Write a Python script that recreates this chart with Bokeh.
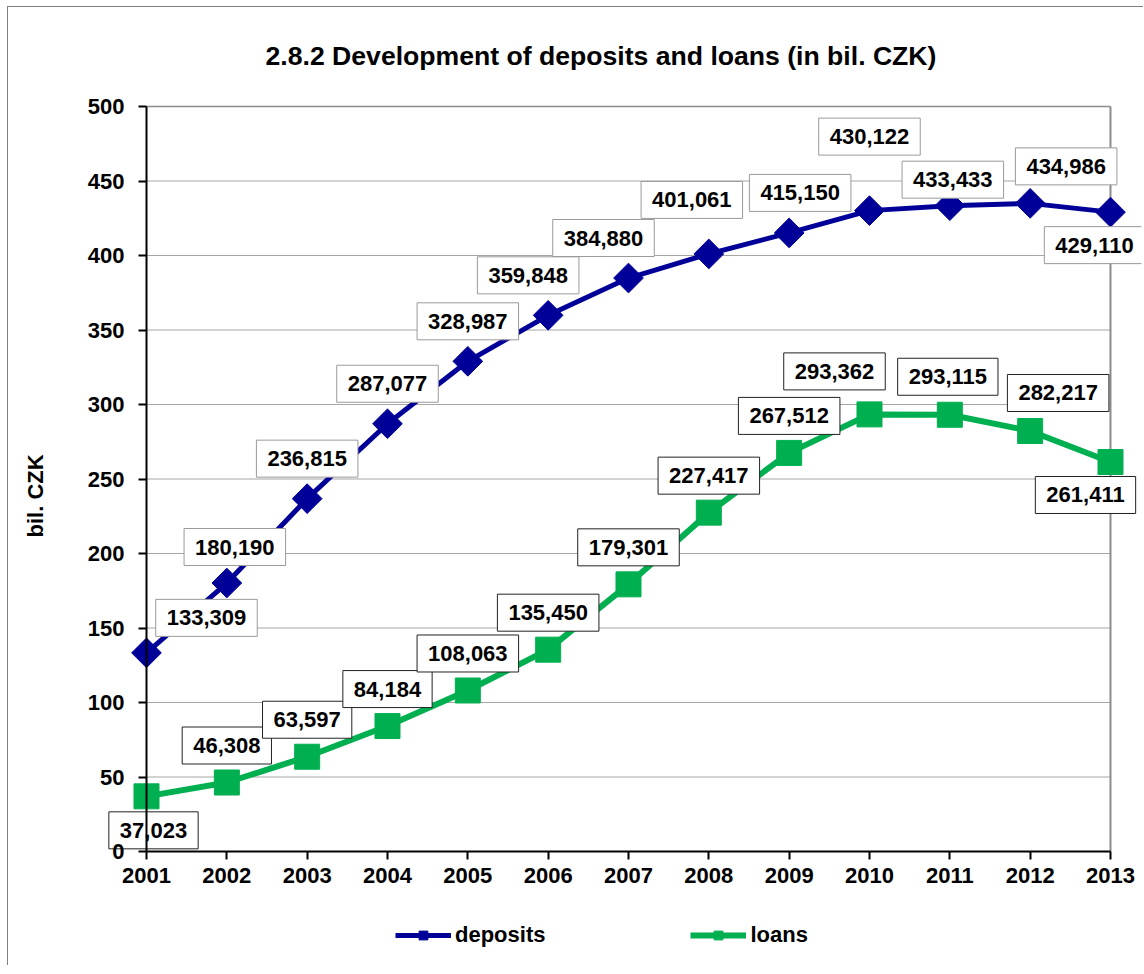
import math
from bokeh.plotting import figure
from bokeh.models import (Range1d, LinearAxis, FixedTicker, ColumnDataSource,
                          Legend, LegendItem, Title)
from bokeh.core.properties import value
from bokeh.embed import file_html
from bokeh.resources import INLINE

# ---------------- data ----------------
years = [2001, 2002, 2003, 2004, 2005, 2006, 2007, 2008, 2009, 2010, 2011, 2012, 2013]
deposits = [133.309, 180.190, 236.815, 287.077, 328.987, 359.848, 384.880,
            401.061, 415.150, 430.122, 433.433, 434.986, 429.110]
loans = [37.023, 46.308, 63.597, 84.184, 108.063, 135.450, 179.301,
         227.417, 267.512, 293.362, 293.115, 282.217, 261.411]
y_ticks = [0, 50, 100, 150, 200, 250, 300, 350, 400, 450, 500]
title_text = "2.8.2 Development of deposits and loans (in bil. CZK)"
y_label = "bil. CZK"
series_names = ["deposits", "loans"]

# label placement: screen-pixel offsets of each value box from its point (up = +)
dep_dx = [60, 8, 0, 0, 0, -20, -25, -17, 11, 0, 3, 36, -16]
dep_dy = [35, 36, 40, 40, 40, 40, 40, 54, 40, 74, 26, 37, -33]
loan_dx = [7, 0, 0, 0, 0, 0, 0, 0, 0, -35, -2, 28, -25]
loan_dy = [-34, 37, 37, 37, 37, 37, 37, 37, 37, 43, 38, 38, -33]

FONT = "Liberation Sans"
BLUE = "#000099"
GREEN = "#00B050"


def fmt(v):
    return f"{v:.3f}".replace(".", ",")


# frame spans page x 60..1141, y 90..965 ; year 2001 -> x 146, 2013 -> x 1110 ;
# value 0 -> y 851, 500 -> y 106
p = figure(frame_width=1081, frame_height=875,
           x_range=Range1d(1999.9295, 2013.386), y_range=Range1d(-76.51, 510.74),
           output_backend="svg", toolbar_location=None,
           x_axis_location=None, y_axis_location=None,
           min_border_left=52, min_border_right=2, min_border_top=83,
           min_border_bottom=0, title=title_text)
p.styles = {"margin-left": "7px", "margin-top": "6px",
            "border-left": "1px solid #7f7f7f", "border-top": "1px solid #7f7f7f"}
p.outline_line_color = None
p.grid.visible = False
p.background_fill_color = "white"
p.border_fill_color = "white"

p.title.text_font = FONT
p.title.text_font_size = "26.6px"
p.title.text_font_style = "bold"
p.title.text_color = "black"
p.title.align = "center"
p.title.standoff = 40


def style_axis(ax):
    ax.axis_line_width = 2
    ax.axis_line_color = "black"
    ax.major_tick_out = 8
    ax.major_tick_in = 0
    ax.major_tick_line_width = 2
    ax.major_tick_line_color = "black"
    ax.minor_tick_out = 0
    ax.minor_tick_in = 0
    ax.major_label_text_font = FONT
    ax.major_label_text_font_size = "22px"
    ax.major_label_text_font_style = "bold"
    ax.major_label_text_color = "black"


# x axis pinned at value 0
xa = LinearAxis(fixed_location=y_ticks[0], ticker=FixedTicker(ticks=years),
                bounds=(years[0], years[-1]))
style_axis(xa)
xa.major_label_standoff = 8
p.add_layout(xa, "below")

# y axis pinned at the first year
ya = LinearAxis(fixed_location=years[0], ticker=FixedTicker(ticks=y_ticks),
                bounds=(y_ticks[0], y_ticks[-1]))
style_axis(ya)
ya.major_label_standoff = 14
p.add_layout(ya, "left")

# y axis title, as a side title
yt = Title(text=y_label, align="left", offset=428, text_font=FONT,
           text_font_size="22px", text_font_style="bold", text_color="black",
           standoff=25)
p.add_layout(yt, "left")

# gridlines and plot-area border limited to the data span
p.segment(x0=years[0], x1=years[-1], y0=y_ticks[1:-1], y1=y_ticks[1:-1],
          line_color="#a6a6a6", line_width=1)
p.segment(x0=years[0], x1=years[-1], y0=y_ticks[-1], y1=y_ticks[-1],
          line_color="#8c8c8c", line_width=1.5)
p.segment(x0=years[-1], x1=years[-1], y0=y_ticks[0], y1=y_ticks[-1],
          line_color="#8c8c8c", line_width=2)

# series
dl = p.line(years, deposits, line_color=BLUE, line_width=5, line_join="round")
ds = p.scatter(years, deposits, marker="square", size=21, angle=math.pi / 4,
               fill_color=BLUE, line_color=BLUE)
ll = p.line(years, loans, line_color=GREEN, line_width=6, line_join="round")
ls = p.scatter(years, loans, marker="square", size=25,
               fill_color=GREEN, line_color=GREEN)


# value labels
def add_labels(vals, dx, dy, border):
    src = ColumnDataSource(dict(x=years, y=vals, text=[fmt(v) for v in vals],
                                dx=dx, dy=[-d for d in dy]))
    p.text(x="x", y="y", text="text", x_offset="dx", y_offset="dy",
           source=src, text_align="center", text_baseline="middle",
           text_font=value(FONT), text_font_size=value("22px"),
           text_font_style="bold", text_color="black",
           background_fill_color="white", border_line_color=border,
           border_line_width=1, padding=(11, 11))


add_labels(deposits, dep_dx, dep_dy, "#9a9a9a")
add_labels(loans, loan_dx, loan_dy, "#222222")

legend = Legend(items=[LegendItem(label=series_names[0], renderers=[dl, ds]),
                       LegendItem(label=series_names[1], renderers=[ll, ls])],
                orientation="horizontal", location=(335, 17),
                glyph_width=56, glyph_height=22, label_standoff=4, spacing=145,
                margin=0, padding=0, border_line_color=None,
                background_fill_alpha=0)
legend.label_text_font = FONT
legend.label_text_font_size = "22px"
legend.label_text_font_style = "bold"
legend.label_text_color = "black"
p.add_layout(legend)

open("out.html", "w").write(file_html(p, INLINE))
